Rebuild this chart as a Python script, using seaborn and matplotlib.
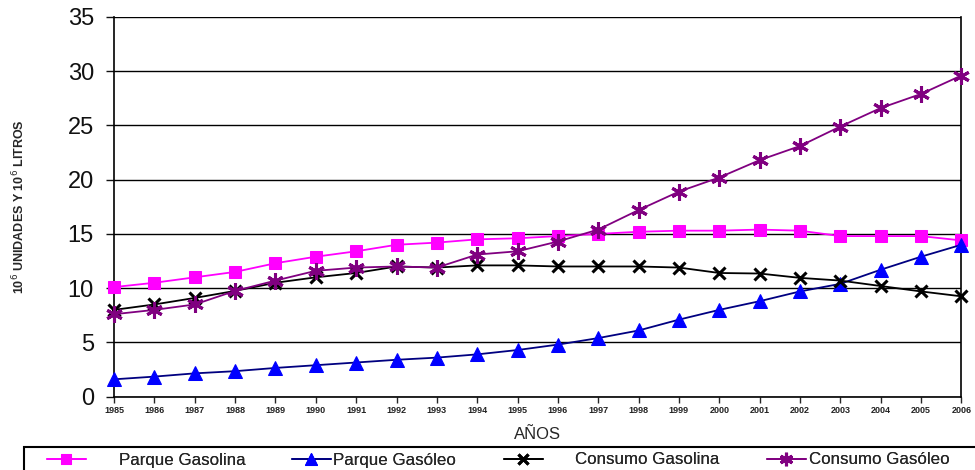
import matplotlib
matplotlib.use("Agg")
import matplotlib.pyplot as plt
from matplotlib.patches import Rectangle
import seaborn as sns

years = list(range(1985, 2007))

parque_gasolina = [10.1, 10.5, 11.0, 11.5, 12.3, 12.9, 13.4, 14.0, 14.2, 14.5, 14.6,
                   14.8, 15.0, 15.2, 15.3, 15.3, 15.4, 15.3, 14.8, 14.8, 14.8, 14.4]
parque_gasoleo = [1.6, 1.85, 2.15, 2.35, 2.65, 2.9, 3.15, 3.4, 3.6, 3.9, 4.3,
                  4.8, 5.4, 6.1, 7.1, 8.0, 8.8, 9.7, 10.4, 11.7, 12.9, 14.0]
consumo_gasolina = [8.0, 8.5, 9.1, 9.75, 10.5, 11.0, 11.4, 12.0, 11.9, 12.1, 12.1,
                    12.0, 12.0, 12.0, 11.9, 11.4, 11.35, 10.95, 10.7, 10.2, 9.7, 9.25]
consumo_gasoleo = [7.6, 8.0, 8.5, 9.75, 10.7, 11.6, 11.9, 12.0, 11.9, 13.1, 13.4,
                   14.3, 15.4, 17.2, 18.9, 20.2, 21.8, 23.1, 24.9, 26.6, 27.9, 29.6]

labels = ["Parque Gasolina", "Parque Gasóleo", "Consumo Gasolina", "Consumo Gasóleo"]

sns.set_style("white")
plt.rcParams['font.family'] = ['Liberation Sans', 'DejaVu Sans']

fig = plt.figure(figsize=(9.75, 4.7), dpi=100)
ax = fig.add_axes([0.117, 0.156, 0.869, 0.808])

styles = [
    dict(color="#FF00FF", marker="s", markersize=9, markerfacecolor="#FF00FF",
         markeredgecolor="#FF00FF"),
    dict(color="#000080", marker="^", markersize=10, markerfacecolor="#0000FF",
         markeredgecolor="#0000FF"),
    dict(color="black", marker="x", markersize=9, markeredgewidth=2.2,
         markeredgecolor="black"),
    dict(color="#800080", marker=(6, 2, 0), markersize=12, markeredgewidth=2.2,
         markeredgecolor="#800080"),
]
series = [parque_gasolina, parque_gasoleo, consumo_gasolina, consumo_gasoleo]

for vals, lab, st in zip(series, labels, styles):
    sns.lineplot(x=years, y=vals, ax=ax, label=lab, linewidth=1.3, clip_on=False,
                 zorder=3, **st)

ax.set_xlim(1985, 2006)
ax.set_ylim(0, 35)
ax.set_yticks(range(0, 36, 5))
ax.set_xticks(years)
ax.set_xticklabels([str(y) for y in years], fontsize=6.5, fontweight="bold",
                   color="#222222")
ax.tick_params(axis="y", labelsize=17, length=5.5, width=1, direction="out",
               left=True, pad=9, colors="#111111")
ax.tick_params(axis="x", length=4, width=1, direction="out", bottom=True, pad=3)
ax.yaxis.grid(True, color="black", linewidth=1)
ax.xaxis.grid(False)
ax.set_axisbelow(True)
for side in ["left", "bottom", "right"]:
    ax.spines[side].set_visible(True)
    ax.spines[side].set_color("black")
    ax.spines[side].set_linewidth(1.2)
ax.spines["top"].set_visible(False)

ax.set_xlabel("AÑOS", fontsize=12, labelpad=8)
ax.set_ylabel("10$^6$ UNIDADES Y 10$^6$ LITROS", fontsize=9, fontweight="bold",
              labelpad=29)

# legend: framed box along the bottom with four entries
ax.get_legend().remove()
handles = ax.get_lines()[:4]
fig.patches.append(Rectangle((24 / 975, -0.02), 1.0, (470 - 447) / 470 + 0.02,
                             transform=fig.transFigure, fill=False,
                             edgecolor="black", linewidth=1.5))
entry_x = [47, 292, 504, 767]
text_pad = [1.95, 0.1, 1.9, 0.15]
for h, lab, x0, tp in zip(handles, labels, entry_x, text_pad):
    leg = fig.legend([h], [lab], loc="center left",
                     bbox_to_anchor=(x0 / 975, 1 - 460 / 470), fontsize=12.2,
                     frameon=False, handlelength=2.3, handletextpad=tp,
                     borderpad=0, borderaxespad=0, markerscale=0.8)
    fig.add_artist(leg)

fig.savefig("out.png", dpi=100)
